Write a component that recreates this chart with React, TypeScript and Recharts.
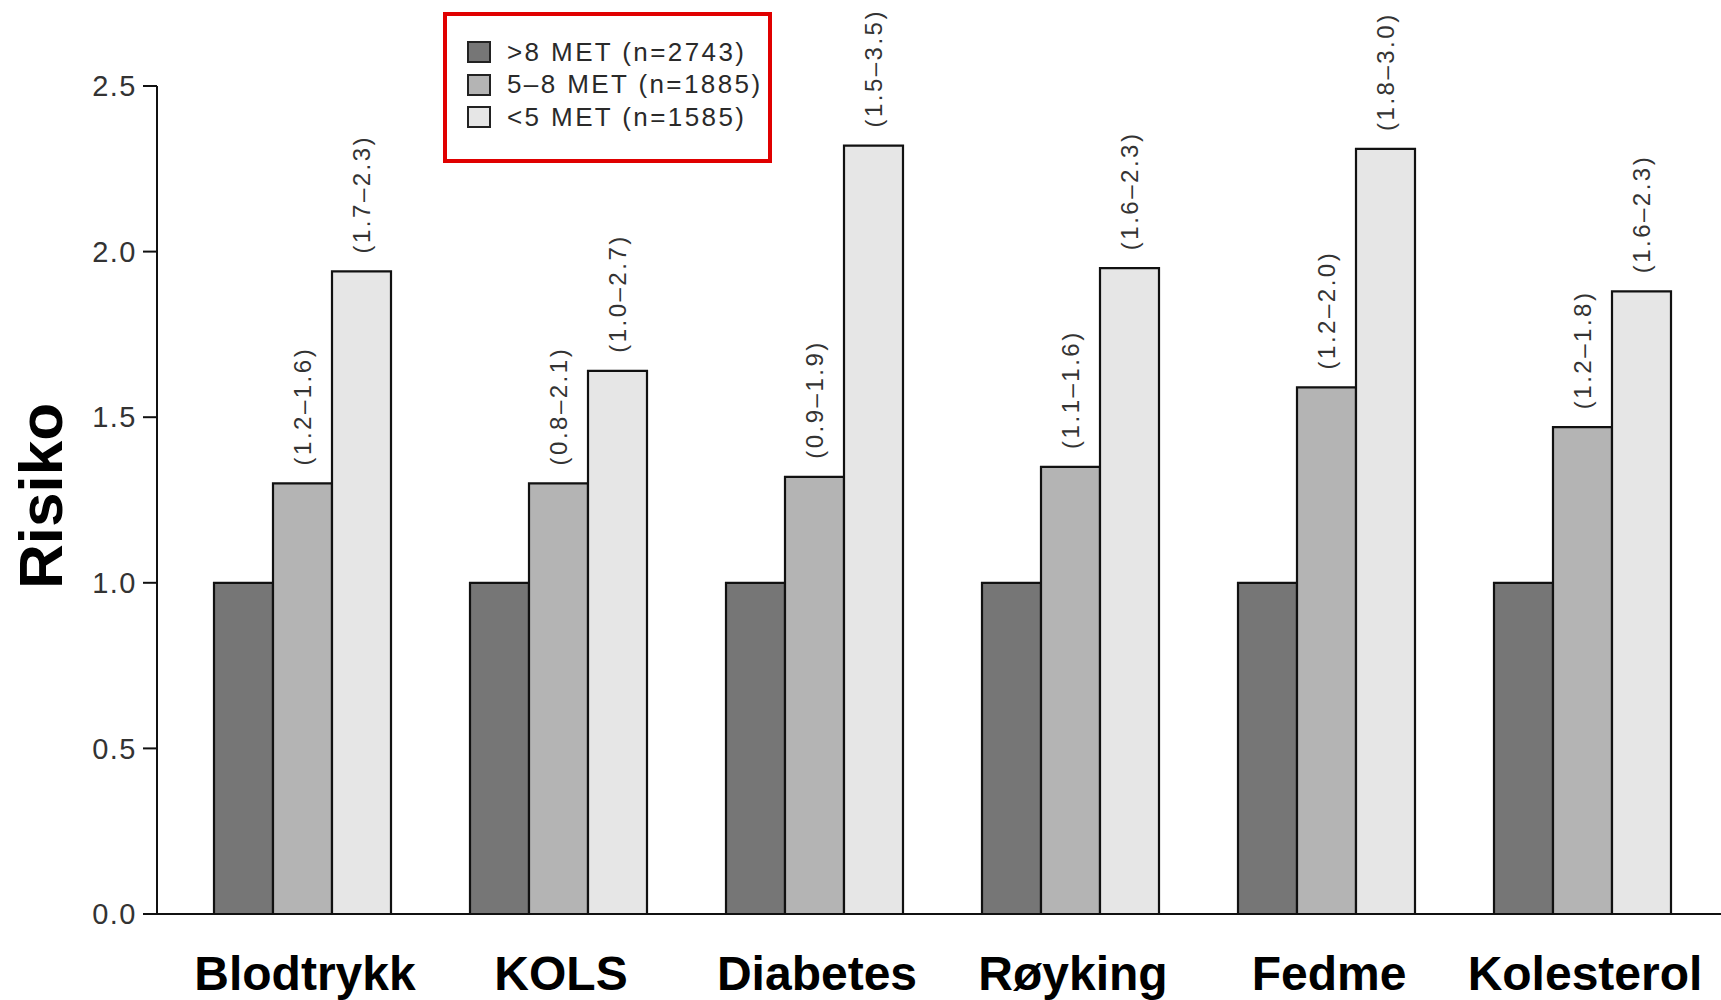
import { BarChart, Bar, XAxis, YAxis, Legend, LabelList } from 'recharts';

const categories = ['Blodtrykk', 'KOLS', 'Diabetes', 'Røyking', 'Fedme', 'Kolesterol'];

// relative risk per fitness group
const highFit = [1.0, 1.0, 1.0, 1.0, 1.0, 1.0];
const midFit = [1.3, 1.3, 1.32, 1.35, 1.59, 1.47];
const lowFit = [1.94, 1.64, 2.32, 1.95, 2.31, 1.88];

// 95% confidence intervals printed above the bars
const midCI = ['(1.2–1.6)', '(0.8–2.1)', '(0.9–1.9)', '(1.1–1.6)', '(1.2–2.0)', '(1.2–1.8)'];
const lowCI = ['(1.7–2.3)', '(1.0–2.7)', '(1.5–3.5)', '(1.6–2.3)', '(1.8–3.0)', '(1.6–2.3)'];

const yTicks = [0, 0.5, 1.0, 1.5, 2.0, 2.5];

const seriesInfo = [
  { key: 'high', label: '>8 MET (n=2743)', color: '#767676' },
  { key: 'mid', label: '5–8 MET (n=1885)', color: '#b4b4b4' },
  { key: 'low', label: '<5 MET (n=1585)', color: '#e6e6e6' },
];

const data = categories.map((name, i) => ({
  name,
  high: highFit[i],
  mid: midFit[i],
  low: lowFit[i],
  midCI: midCI[i],
  lowCI: lowCI[i],
}));

const FONT = "'Liberation Sans', Arial, Helvetica, sans-serif";

function CILabel(props: any) {
  const { x, y, width, value } = props;
  const cx = x + width / 2;
  const cy = y - 18;
  return (
    <text
      x={cx}
      y={cy}
      transform={`rotate(-90, ${cx}, ${cy})`}
      textAnchor="start"
      dominantBaseline="central"
      fontFamily={FONT}
      fontSize={24}
      letterSpacing={2.5}
      fill="#333"
    >
      {value}
    </text>
  );
}

function CategoryTick(props: any) {
  const { x, y, payload } = props;
  return (
    <text
      x={x + 3}
      y={y + 76}
      textAnchor="middle"
      fontFamily={FONT}
      fontWeight="bold"
      fontSize={48}
      fill="#000"
    >
      {payload.value}
    </text>
  );
}

function LegendBox() {
  return (
    <div style={{ paddingTop: 20, paddingLeft: 20, fontFamily: FONT }}>
      {seriesInfo.map((s) => (
        <div key={s.key} style={{ display: 'flex', alignItems: 'center', height: 32.5 }}>
          <span
            style={{
              display: 'inline-block',
              width: 24,
              height: 22,
              boxSizing: 'border-box',
              border: '2px solid #222',
              background: s.color,
              marginRight: 16,
            }}
          />
          <span style={{ fontSize: 26, letterSpacing: 2.4, color: '#2a2a2a', whiteSpace: 'nowrap' }}>
            {s.label}
          </span>
        </div>
      ))}
    </div>
  );
}

export default function App() {
  return (
    <div style={{ position: 'absolute', left: 0, top: 0, width: 1721, height: 1000, background: '#fff' }}>
      <BarChart
        width={1721}
        height={1000}
        data={data}
        margin={{ top: 86, right: 0, bottom: 0, left: 0 }}
        barGap={0}
        barSize={59}
      >
        <XAxis
          dataKey="name"
          padding={{ left: 17, right: 11 }}
          height={86}
          tickSize={0}
          tickMargin={0}
          tickLine={false}
          axisLine={{ stroke: '#111', strokeWidth: 2 }}
          tick={<CategoryTick />}
          interval={0}
        />
        <YAxis
          width={157}
          domain={[0, 2.5]}
          ticks={yTicks}
          tickFormatter={(v: number) => v.toFixed(1)}
          tickSize={14}
          tickMargin={6}
          axisLine={{ stroke: '#111', strokeWidth: 2 }}
          tickLine={{ stroke: '#111', strokeWidth: 2 }}
          tick={{ fill: '#333', fontSize: 29, fontFamily: FONT, letterSpacing: 1.5 }}
          label={{
            content: () => (
              <text
                x={62}
                y={496}
                transform="rotate(-90, 62, 496)"
                textAnchor="middle"
                fontFamily={FONT}
                fontWeight="bold"
                fontSize={62}
                fill="#000"
              >
                Risiko
              </text>
            ),
          }}
        />
        <Legend
          layout="horizontal"
          verticalAlign="middle"
          align="center"
          content={<LegendBox />}
          wrapperStyle={{
            left: 443,
            top: 12,
            width: 329,
            height: 151,
            border: '4px solid #e00000',
            boxSizing: 'border-box',
            background: '#fff',
          }}
        />
        <Bar dataKey="high" fill={seriesInfo[0].color} stroke="#111" strokeWidth={2.2} isAnimationActive={false} />
        <Bar dataKey="mid" fill={seriesInfo[1].color} stroke="#111" strokeWidth={2.2} isAnimationActive={false}>
          <LabelList dataKey="midCI" content={<CILabel />} />
        </Bar>
        <Bar dataKey="low" fill={seriesInfo[2].color} stroke="#111" strokeWidth={2.2} isAnimationActive={false}>
          <LabelList dataKey="lowCI" content={<CILabel />} />
        </Bar>
      </BarChart>
    </div>
  );
}
